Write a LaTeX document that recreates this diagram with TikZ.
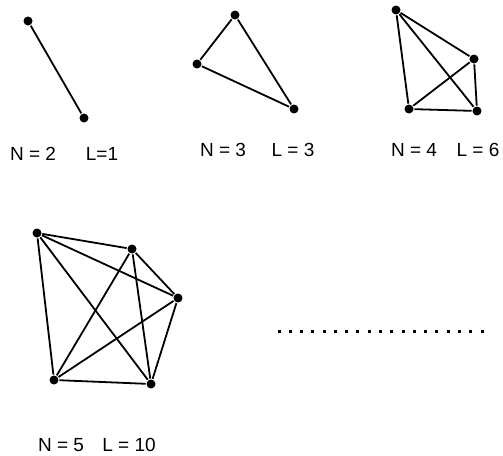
\documentclass[tikz,border=0pt]{standalone}
\usepackage{fontspec}
\setmainfont{Liberation Sans}

\begin{document}
\begin{tikzpicture} [x=1pt,y=-1pt,line width=1.8pt,
    vertex node/.style={circle,fill=black,draw=none,inner sep=0pt,
      minimum size=9pt},
    count node/.style={inner sep=0pt,font=\fontsize{19}{21}\selectfont}]

  \useasboundingbox (0,0) rectangle (503,455);

  % draw the nodes of the graphs
  \node [vertex node] (g2_a) at (28,21) {};
  \node [vertex node] (g2_b) at (84,118) {};

  \node [vertex node] (g3_a) at (235,15) {};
  \node [vertex node] (g3_b) at (197,64) {};
  \node [vertex node] (g3_c) at (294,109) {};

  \node [vertex node] (g4_a) at (396,10) {};
  \node [vertex node] (g4_b) at (474,59) {};
  \node [vertex node] (g4_c) at (409,109) {};
  \node [vertex node] (g4_d) at (477,111) {};

  \node [vertex node] (g5_a) at (37,233) {};
  \node [vertex node] (g5_b) at (132,249) {};
  \node [vertex node] (g5_c) at (178,298) {};
  \node [vertex node] (g5_d) at (54,380) {};
  \node [vertex node] (g5_e) at (151,384) {};

  % connectors between the nodes
  \draw (g2_a) -- (g2_b);

  \draw (g3_a) -- (g3_b);
  \draw (g3_b) -- (g3_c);
  \draw (g3_c) -- (g3_a);

  \foreach \from/\to in {a/b,a/c,a/d,b/c,b/d,c/d}
    \draw (g4_\from) -- (g4_\to);

  \foreach \from/\to in {a/b,a/c,a/d,a/e,b/c,b/d,b/e,c/d,c/e,d/e}
    \draw (g5_\from) -- (g5_\to);

  % labels
  \node [count node] (n2) at (33,154) {N = 2};
  \node [count node] (l2) at (102,154) {L=1};
  \node [count node] (n3) at (223,150) {N = 3};
  \node [count node] (l3) at (293,150) {L = 3};
  \node [count node] (n4) at (414,150) {N = 4};
  \node [count node] (l4) at (478,150) {L = 6};
  \node [count node] (n5) at (61,445) {N = 5};
  \node [count node] (l5) at (129,445) {L = 10};

  % and so on
  \foreach \i in {0,...,18}
    \fill (279+\i*11.28-1.5,329.5) rectangle ++(3,3);

\end{tikzpicture}
\end{document}
